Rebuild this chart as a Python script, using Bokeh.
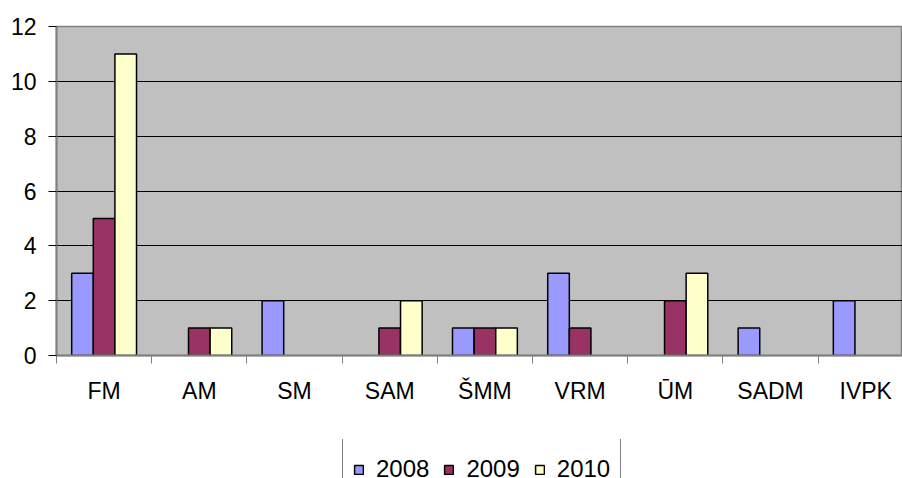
import pandas as pd
from bokeh.plotting import figure
from bokeh.layouts import column
from bokeh.models import ColumnDataSource, Range1d, FixedTicker, Legend, LegendItem
from bokeh.embed import file_html
from bokeh.resources import INLINE

categories = ["FM", "AM", "SM", "SAM", "ŠMM", "VRM", "ŪM", "SADM", "IVPK"]
years = ["2008", "2009", "2010"]
v2008 = [3, 0, 2, 0, 1, 3, 0, 1, 2]
v2009 = [5, 1, 0, 1, 1, 1, 2, 0, 0]
v2010 = [11, 1, 0, 2, 1, 0, 3, 0, 0]
colors = ["#9999FF", "#993366", "#FFFFCC"]
y_ticks = [0, 2, 4, 6, 8, 10, 12]

FONT = "Liberation Sans"

positions = list(range(1, len(categories) + 1))

p = figure(width=902, height=439, output_backend="svg", toolbar_location=None,
           x_range=Range1d(0.5, 9.386), y_range=Range1d(0, 12),
           min_border_left=56, min_border_right=0, min_border_top=26,
           min_border_bottom=84)
p.background_fill_color = "#C0C0C0"
p.border_fill_color = "white"
p.outline_line_color = "#808080"
p.outline_line_width = 1.5

bar_w = 0.227
offsets = [-bar_w, 0.0, bar_w]
sources = []
for yr, vals, col, off in zip(years, [v2008, v2009, v2010], colors, offsets):
    df = pd.DataFrame({"cat": categories, "pos": positions, "val": vals})
    df = df[df["val"] > 0].copy()
    df["x"] = df["pos"] + off
    src = ColumnDataSource(df)
    sources.append(src)
    p.vbar(x="x", top="val", bottom=0, width=bar_w, source=src,
           fill_color=col, line_color="black", line_width=1.5)

# x axis
p.xaxis.ticker = FixedTicker(ticks=positions,
                             minor_ticks=[i + 0.5 for i in range(0, len(categories) + 1)])
p.xaxis.major_label_overrides = {pos: c for pos, c in zip(positions, categories)}
p.xaxis.major_tick_out = 0
p.xaxis.major_tick_in = 0
p.xaxis.minor_tick_out = 8
p.xaxis.minor_tick_in = 0
p.xaxis.minor_tick_line_color = "#808080"
p.xaxis.axis_line_color = "#808080"
p.xaxis.axis_line_width = 2
p.xaxis.major_label_standoff = 14
p.xaxis.major_label_text_font = FONT
p.xaxis.major_label_text_font_size = "23px"
p.xaxis.major_label_text_color = "black"

# y axis
p.yaxis.ticker = FixedTicker(ticks=y_ticks, minor_ticks=[])
p.yaxis.major_tick_out = 8
p.yaxis.major_tick_in = 0
p.yaxis.major_tick_line_color = "black"
p.yaxis.minor_tick_line_color = None
p.yaxis.axis_line_color = "#808080"
p.yaxis.axis_line_width = 2
p.yaxis.major_label_standoff = 12
p.yaxis.major_label_text_font = FONT
p.yaxis.major_label_text_font_size = "23px"
p.yaxis.major_label_text_color = "black"

# grid
p.xgrid.visible = False
p.ygrid.ticker = FixedTicker(ticks=[t for t in y_ticks if 0 < t < 12])
p.ygrid.grid_line_color = "black"
p.ygrid.grid_line_width = 1

# legend strip (separate canvas below the chart); its series renderers are
# muted with a fully transparent muted style, so only legend swatches show
p2 = figure(width=902, height=39, output_backend="svg", toolbar_location=None,
            x_range=Range1d(0.5, 9.386), y_range=Range1d(0, 12),
            x_axis_location=None, y_axis_location=None,
            min_border=0, min_border_left=0, min_border_right=0,
            min_border_top=0, min_border_bottom=0)
p2.outline_line_color = None
p2.background_fill_color = "white"
p2.border_fill_color = "white"
p2.xgrid.visible = False
p2.ygrid.visible = False

leg_renderers = []
for col, src in zip(colors, sources):
    r = p2.vbar(x="x", top="val", bottom=0, width=bar_w, source=src,
                fill_color=col, line_color="black", line_width=1.5,
                muted_fill_alpha=0, muted_line_alpha=0)
    r.muted = True
    leg_renderers.append(r)

legend = Legend(items=[LegendItem(label=yr, renderers=[r]) for yr, r in zip(years, leg_renderers)],
                location=(286, -22.5), orientation="horizontal")
legend.click_policy = "none"
legend.label_text_font = FONT
legend.label_text_font_size = "24px"
legend.label_text_color = "black"
legend.glyph_width = 11
legend.glyph_height = 11
legend.label_standoff = 12
legend.spacing = 14
legend.padding = 10
legend.margin = 0
legend.label_height = 41
legend.border_line_color = "black"
legend.border_line_width = 1
legend.background_fill_color = "white"
legend.background_fill_alpha = 1
p2.add_layout(legend)

layout = column(p, p2, spacing=0)
open("out.html", "w").write(file_html(layout, INLINE))
